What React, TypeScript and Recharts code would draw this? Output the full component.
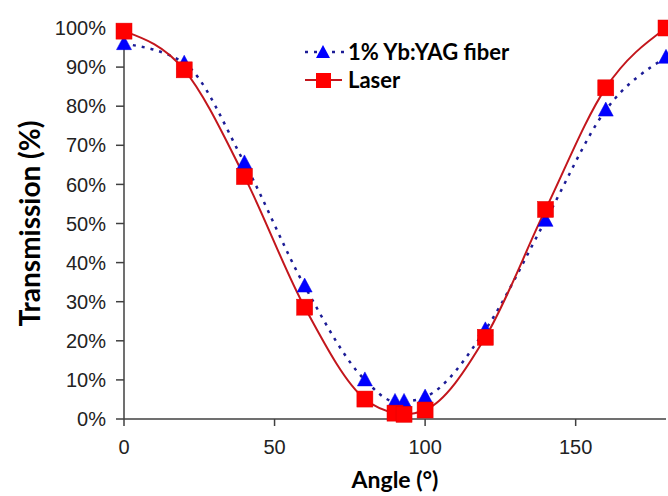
import { LineChart, Line, XAxis, YAxis, Legend } from 'recharts';

// angle (deg) vs transmission (%)
const fiberAngles = [0, 20, 40, 60, 80, 90, 93, 100, 120, 140, 160, 180];
const fiberValues = [96, 91, 65.5, 34, 10, 4.5, 4.5, 5.6, 22.8, 50.8, 79, 92.5];

const laserAngles = [0, 20, 40, 60, 80, 90, 93, 100, 120, 140, 160, 180];
const laserValues = [99.2, 89.3, 62, 28.6, 5.1, 1.5, 1.2, 2.3, 20.9, 53.6, 84.7, 100];

const xTicks = [0, 50, 100, 150];
const yTicks = [0, 10, 20, 30, 40, 50, 60, 70, 80, 90, 100];

const fiberData = fiberAngles.map((a, i) => ({ angle: a, value: fiberValues[i] }));
const laserData = laserAngles.map((a, i) => ({ angle: a, value: laserValues[i] }));

const BLUE_LINE = '#1c1c96';
const RED_LINE = '#c3161c';

const Triangle = (props: any) => {
  const { cx, cy } = props;
  if (cx == null || cy == null) return null;
  return (
    <polygon
      points={`${cx},${cy - 8} ${cx - 7.5},${cy + 6} ${cx + 7.5},${cy + 6}`}
      fill="#0000ff"
      stroke="#0000e0"
      strokeWidth={0.5}
    />
  );
};

const Square = (props: any) => {
  const { cx, cy } = props;
  if (cx == null || cy == null) return null;
  return <rect x={cx - 8} y={cy - 8} width={16} height={16} fill="#ff0000" stroke="#e00000" strokeWidth={0.5} />;
};

const renderLegend = () => (
  <div style={{ fontFamily: 'Lato', fontWeight: 700, fontSize: 22, color: '#000', lineHeight: '28px' }}>
    <div style={{ display: 'flex', alignItems: 'center' }}>
      <svg width={43} height={20}>
        <line x1={0} y1={10} x2={40} y2={10} stroke={BLUE_LINE} strokeWidth={2.5} strokeDasharray="3 6" />
        <polygon points="18,3 11,16 25,16" fill="#0000ff" />
      </svg>
      <span>1% Yb:YAG fiber</span>
    </div>
    <div style={{ display: 'flex', alignItems: 'center' }}>
      <svg width={43} height={20}>
        <line x1={0} y1={10} x2={37} y2={10} stroke={RED_LINE} strokeWidth={2} />
        <rect x={11} y={3} width={15} height={15} fill="#ff0000" />
      </svg>
      <span>Laser</span>
    </div>
  </div>
);

export default function App() {
  return (
    <div style={{ position: 'absolute', left: 0, top: 0, background: '#fff' }}>
      <LineChart width={668} height={496} margin={{ top: 28, right: 2, left: 0, bottom: 0 }}>
        <XAxis
          type="number"
          dataKey="angle"
          domain={[0, 180]}
          ticks={xTicks}
          allowDuplicatedCategory={false}
          height={77}
          stroke="#404040"
          strokeWidth={1.5}
          tickSize={7}
          tickMargin={14}
          tick={{ fill: '#222', fontSize: 20, fontFamily: 'Liberation Sans' }}
          label={{
            value: 'Angle (°)',
            position: 'insideBottom',
            offset: 8,
            style: { fill: '#000', fontSize: 23, fontWeight: 700, fontFamily: 'Lato' },
          }}
        />
        <YAxis
          type="number"
          domain={[0, 100]}
          ticks={yTicks}
          width={124}
          stroke="#404040"
          strokeWidth={1.5}
          tickSize={8}
          tickMargin={10}
          tickFormatter={(v) => `${v}%`}
          tick={{ fill: '#222', fontSize: 20, fontFamily: 'Liberation Sans' }}
          label={{
            value: 'Transmission (%)',
            angle: -90,
            position: 'insideLeft',
            offset: 30,
            style: { fill: '#000', fontSize: 28, fontWeight: 700, fontFamily: 'Lato', textAnchor: 'middle' },
          }}
        />
        <Legend
          content={renderLegend}
          layout="vertical"
          align="center"
          verticalAlign="middle"
          wrapperStyle={{ top: 38, left: 305, width: 260 }}
        />
        <Line
          data={fiberData}
          dataKey="value"
          name="1% Yb:YAG fiber"
          type="monotone"
          stroke={BLUE_LINE}
          strokeWidth={2.5}
          strokeDasharray="3 6"
          dot={<Triangle />}
          activeDot={false}
          isAnimationActive={false}
        />
        <Line
          data={laserData}
          dataKey="value"
          name="Laser"
          type="monotone"
          stroke={RED_LINE}
          strokeWidth={2}
          dot={<Square />}
          activeDot={false}
          isAnimationActive={false}
        />
      </LineChart>
    </div>
  );
}
